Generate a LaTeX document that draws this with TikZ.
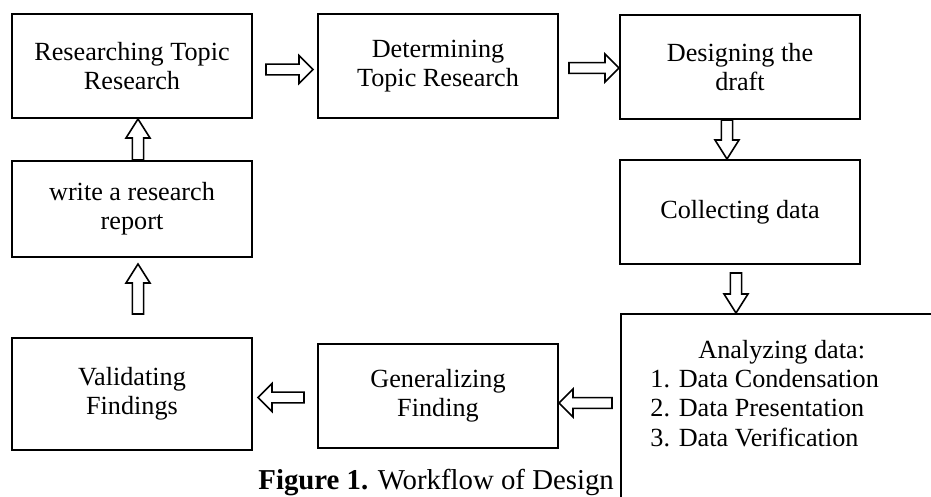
\documentclass[tikz,border=0pt]{standalone}
\usepackage{fontspec}
\setmainfont{Liberation Serif}
\usetikzlibrary{positioning,calc}

\begin{document}
\begin{tikzpicture}[
        x=0.5pt, y=-0.5pt,
        box/.style={
            draw,
            rectangle,
            line width=1pt,
            minimum width=120pt,
            minimum height=52pt,
            align=center,
            fill=white,
            font=\fontsize{13.1}{14.6}\selectfont
        },
        fat/.style n args={3}{
            draw, line width=0.8pt, fill=white,
            to path={
                ($(\tikztostart)!#1!90:(\tikztotarget)$)
                -- ($(\tikztotarget)!#3!(\tikztostart)!#1!90:(\tikztotarget)$)
                -- ($(\tikztotarget)!#3!(\tikztostart)!#2!90:(\tikztotarget)$)
                -- (\tikztotarget)
                -- ($(\tikztotarget)!#3!(\tikztostart)!#2!-90:(\tikztotarget)$)
                -- ($(\tikztotarget)!#3!(\tikztostart)!#1!-90:(\tikztotarget)$)
                -- ($(\tikztostart)!#1!-90:(\tikztotarget)$)
                -- cycle}
        },
        hfat/.style={fat={2.7pt}{7pt}{7pt}},
        vfat/.style={fat={2.8pt}{6pt}{9.5pt}}
    ]
        \useasboundingbox (0,0) rectangle (931,497);

        % Process boxes
        \node[box] (research) at (132,66) {Researching Topic\\Research};
        \node[box] (topic) at (438,66) {Determining\\Topic Research};
        \node[box] (draft) at (740,67) {Designing the\\draft};
        \node[box] (collect) at (740,212) {Collecting data};
        \node[box, minimum height=48pt] (report) at (132,209) {write a research\\report};
        \node[box, minimum height=56pt] (validate) at (132,394) {Validating\\Findings};
        \node[box] (general) at (438,396) {Generalizing\\Finding};

        % Caption
        \node[anchor=base west, inner sep=0, font=\fontsize{14.4}{16}\selectfont] (caption) at (258,489) {\textbf{Figure 1.} Workflow of Design};

        % Analysis box runs off the page
        \node[box, anchor=north west, minimum width=180pt, minimum height=120pt] (analyze) at (620,313) {};
        \node[below right=13.5pt and 15pt of analyze.north west, inner sep=0, align=left,
              font=\fontsize{13.1}{14.6}\selectfont] (steps)
            {\hspace*{24pt}Analyzing data:\\1. Data Condensation\\2. Data Presentation\\3. Data Verification};

        % Arrows between boxes
        \draw[hfat] ([xshift=6.5pt,yshift=-1.75pt]research.east) to ([xshift=-2pt,yshift=-1.75pt]topic.west);
        \draw[hfat] ([xshift=5pt,yshift=-1pt]topic.east) to ([yshift=-1pt]topic.east -| draft.west);
        \draw[vfat] ([xshift=-6.5pt]draft.south) to ([xshift=-6.5pt]collect.north);
        \draw[vfat] ([xshift=-2pt,yshift=-4pt]collect.south) to ([xshift=-2pt]collect.south |- analyze.north);
        \draw[hfat] ([xshift=-4pt,yshift=-3.5pt]general.east -| analyze.west) to ([yshift=-3.5pt]general.east);
        \draw[hfat] ([xshift=-6.5pt,yshift=-0.75pt]general.west) to ([xshift=2.5pt,yshift=-0.75pt]general.west -| validate.east);
        \draw[vfat] ([xshift=3pt,yshift=11.5pt]validate.north) to ([xshift=3pt,yshift=-3pt]report.south);
        \draw[vfat] ([xshift=3pt]report.north) to ([xshift=3pt]research.south);

\end{tikzpicture}
\end{document}
